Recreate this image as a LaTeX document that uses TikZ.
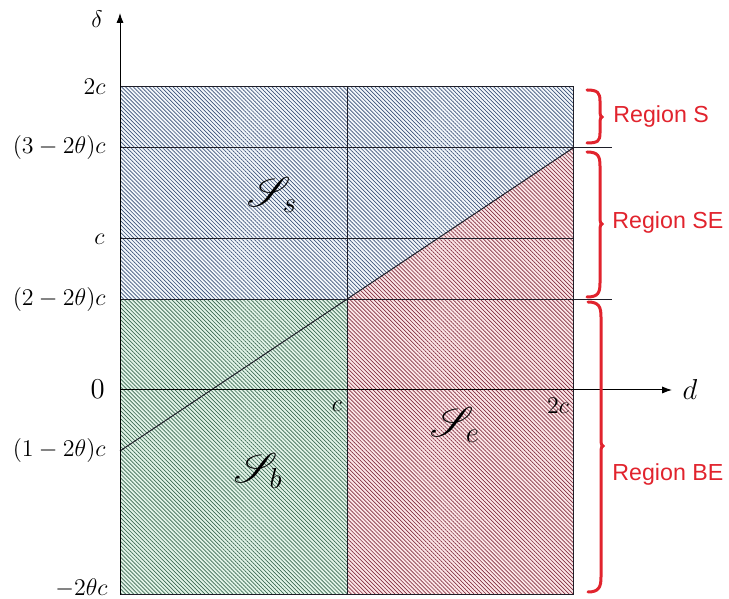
\documentclass[tikz,border=0pt]{standalone}
\usepackage{fontspec}
\usepackage{amsmath}
\usepackage{mathrsfs}
\usetikzlibrary{patterns.meta,arrows.meta}
\newfontfamily\regfont{Liberation Sans}
\definecolor{bluebg}{RGB}{244,248,252}
\definecolor{blueln}{RGB}{62,84,122}
\definecolor{greenbg}{RGB}{226,244,232}
\definecolor{greenln}{RGB}{60,105,82}
\definecolor{redbg}{RGB}{252,230,232}
\definecolor{redln}{RGB}{132,50,66}
\definecolor{regred}{RGB}{225,35,45}
\definecolor{gridln}{RGB}{30,30,40}
\begin{document}
\begin{tikzpicture}[x=0.5pt,y=0.5pt,
  hatch/.style={pattern={Lines[angle=-45,distance=1.4pt,line width=0.34pt]},pattern color=#1},
  gridline/.style={line width=0.5pt,gridln},
  axisline/.style={line width=0.5pt,black,-{Latex[length=5pt,width=3.6pt]}},
  ticklab/.style={anchor=east,inner sep=0pt,font=\fontsize{12.5}{14}\selectfont},
  setlab/.style={inner sep=0pt,font=\fontsize{22}{24}\selectfont},
  bracefit/.style={regred,line width=1.5pt,line cap=round},
  reglab/.style={anchor=west,inner sep=0pt,text=regred,font=\regfont\fontsize{11.6}{13}\selectfont}]
\useasboundingbox (0,0) rectangle (729,599);
% key coordinates
\coordinate (O) at (120,209);
\coordinate (BL) at (120,4);
\coordinate (BM) at (347,4);
\coordinate (BR) at (573,4);
\coordinate (TL) at (120,512);
\coordinate (TM) at (347,512);
\coordinate (TR) at (573,512);
\coordinate (ML) at (120,299);
\coordinate (MM) at (347,299);
\coordinate (MR) at (573,299);
\coordinate (DR) at (573,451);
\coordinate (DL) at (120,148);
\coordinate (UL) at (120,451);
\coordinate (CL) at (120,360);
\coordinate (CR) at (573,360);
\coordinate (UE) at (612,451);
\coordinate (ME) at (612,299);
\coordinate (XT) at (672,209);
\coordinate (YT) at (120,586);
% regions
\fill[bluebg] (ML) -- (TL) -- (TR) -- (DR) -- (MM) -- cycle;
\fill[hatch=blueln] (ML) -- (TL) -- (TR) -- (DR) -- (MM) -- cycle;
\fill[greenbg] (BL) -- (BM) -- (MM) -- (ML) -- cycle;
\fill[hatch=greenln] (BL) -- (BM) -- (MM) -- (ML) -- cycle;
\fill[redbg] (BM) -- (BR) -- (DR) -- (MM) -- cycle;
\fill[hatch=redln] (BM) -- (BR) -- (DR) -- (MM) -- cycle;
% grid lines
\draw[gridline] (BL) rectangle (TR);
\draw[gridline] (BM) -- (TM);
\draw[gridline] (UL) -- (UE);
\draw[gridline] (CL) -- (CR);
\draw[gridline] (ML) -- (ME);
\draw[gridline] (DL) -- (DR);
% axes
\draw[axisline] (O) -- (XT);
\draw[axisline] (BL) -- (YT);
\node[inner sep=0pt,font=\fontsize{15.5}{17}\selectfont] (dlab) at (690,209) {$d$};
\node[inner sep=0pt,font=\fontsize{11.5}{13}\selectfont] (deltalab) at (97,580) {$\delta$};
% tick labels
\node[ticklab] (t2c) at (106,512) {$2c$};
\node[ticklab] (t32) at (106,451) {$(3-2\theta)c$};
\node[ticklab] (tc) at (105,360) {$c$};
\node[ticklab] (t22) at (106,299) {$(2-2\theta)c$};
\node[ticklab,font=\fontsize{15}{17}\selectfont] (t0) at (105,210) {$0$};
\node[ticklab] (t12) at (106,148) {$(1-2\theta)c$};
\node[ticklab] (tm2) at (108,11) {$-2\theta c$};
\node[inner sep=0pt,font=\fontsize{12.5}{14}\selectfont] (xc) at (337,193) {$c$};
\node[inner sep=0pt,font=\fontsize{12.5}{14}\selectfont] (x2c) at (558,193) {$2c$};
% set labels
\node[setlab] (Ss) at (272,404) {$\mathscr{S}_s$};
\node[setlab] (Se) at (455,174) {$\mathscr{S}_e$};
\node[setlab] (Sb) at (258,128) {$\mathscr{S}_b$};
% braces
\draw[bracefit] (587,509) .. controls (598,509) and (600,506) .. (600,498) -- (600,486) .. controls (600,484) and (601,482) .. (602,482) .. controls (601,482) and (600,480) .. (600,478) -- (600,466) .. controls (600,458) and (598,456) .. (587,456);
\draw[bracefit] (587,447) .. controls (598,447) and (600,443) .. (600,433) -- (600,379) .. controls (600,377) and (601,375) .. (602,375) .. controls (601,375) and (600,373) .. (600,371) -- (600,316) .. controls (600,306) and (598,302) .. (587,302);
\draw[bracefit] (588,297) .. controls (599,297) and (601,292) .. (601,282) -- (601,157) .. controls (601,155) and (602,153) .. (603,153) .. controls (602,153) and (601,151) .. (601,149) -- (601,22) .. controls (601,12) and (599,7) .. (588,7);
\node[reglab] (rS) at (613,482) {Region S};
\node[reglab] (rSE) at (612,376) {Region SE};
\node[reglab] (rBE) at (612,124) {Region BE};
\end{tikzpicture}
\end{document}
